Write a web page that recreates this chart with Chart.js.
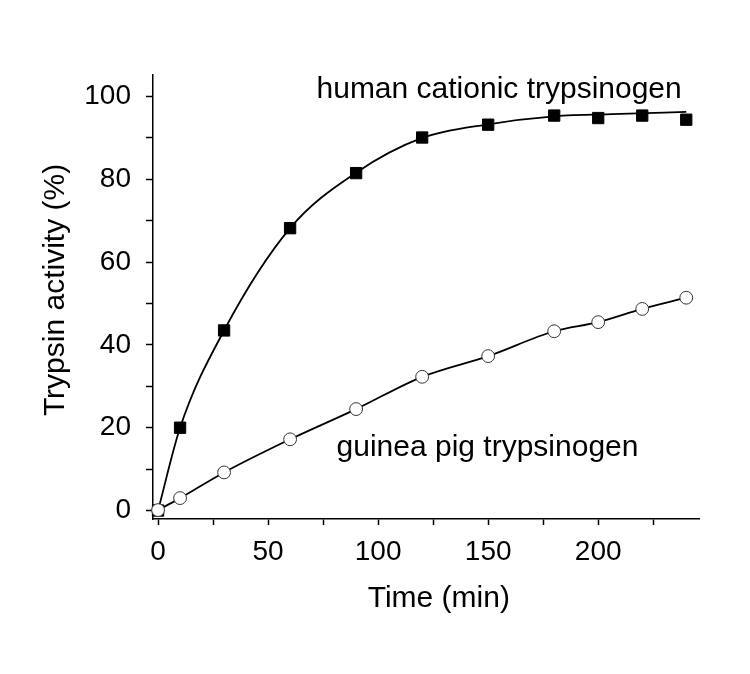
<!DOCTYPE html>
<html>
<head>
<meta charset="utf-8">
<script src="https://cdn.jsdelivr.net/npm/chart.js@4"></script>
<style>
  html, body { margin: 0; padding: 0; background: #fff; }
  #wrap { width: 750px; height: 674px; }
</style>
</head>
<body>
<div id="wrap"><canvas id="c" width="750" height="674"></canvas></div>
<script>
// ---- data ----
const timeMin = [0, 10, 30, 60, 90, 120, 150, 180, 200, 220, 240];
const humanActivity = [0, 20.0, 43.5, 68.2, 81.5, 90.1, 93.2, 95.4, 94.8, 95.4, 94.4];
const guineaPigActivity = [0.1, 3.0, 9.2, 17.2, 24.5, 32.3, 37.3, 43.3, 45.5, 48.7, 51.4];
// fitted curve of the human series
const humanFitTime = [0, 10, 30, 60, 90, 120, 150, 180, 210, 240];
const humanFitActivity = [0, 20, 43.5, 68.2, 81.6, 90.0, 93.3, 95.2, 95.8, 96.3];

const xTickValues = [0, 25, 50, 75, 100, 125, 150, 175, 200, 225];
const xTickLabels = [0, 50, 100, 150, 200];
const yTickValues = [0, 10, 20, 30, 40, 50, 60, 70, 80, 90, 100];
const yTickLabels = [0, 20, 40, 60, 80, 100];

const seriesNames = ['human cationic trypsinogen', 'guinea pig trypsinogen'];
const xTitle = 'Time (min)';
const yTitle = 'Trypsin activity (%)';

const FONT = '"Liberation Sans", Arial, Helvetica, sans-serif';

const toPts = (xs, ys) => xs.map((t, i) => ({ x: t, y: ys[i] }));

const textPlugin = {
  id: 'texts',
  afterDatasetsDraw(chart, args, opts) {
    const { ctx, chartArea: a, scales: { x, y } } = chart;
    ctx.save();
    ctx.fillStyle = '#000';
    ctx.font = '30px ' + FONT;
    ctx.textAlign = 'left';
    ctx.textBaseline = 'alphabetic';
    opts.labels.forEach(l => {
      ctx.fillText(l.text, x.getPixelForValue(l.x), y.getPixelForValue(l.y));
    });
    ctx.textAlign = 'center';
    ctx.fillText(xTitle, (a.left + a.right) / 2 + opts.xTitleShift, a.bottom + opts.xTitleGap);
    ctx.translate(a.left - opts.yTitleGap, (a.top + a.bottom) / 2 + opts.yTitleShift);
    ctx.rotate(-Math.PI / 2);
    ctx.fillText(yTitle, 0, 0);
    ctx.restore();
  }
};

new Chart(document.getElementById('c'), {
  type: 'scatter',
  data: {
    datasets: [
      {
        label: seriesNames[1],
        data: toPts(timeMin, guineaPigActivity),
        showLine: true,
        cubicInterpolationMode: 'monotone',
        borderColor: '#000',
        borderWidth: 1.8,
        pointStyle: 'circle',
        pointRadius: 6.4,
        pointBackgroundColor: '#fff',
        pointBorderColor: '#333',
        pointBorderWidth: 1,
        clip: false,
        order: 1
      },
      {
        label: seriesNames[0],
        data: toPts(timeMin, humanActivity),
        showLine: false,
        pointStyle: 'rect',
        pointRadius: 8,
        pointBackgroundColor: '#000',
        pointBorderColor: '#000',
        pointBorderWidth: 1,
        clip: false,
        order: 2
      },
      {
        label: seriesNames[0] + ' fit',
        data: toPts(humanFitTime, humanFitActivity),
        showLine: true,
        cubicInterpolationMode: 'monotone',
        borderColor: '#000',
        borderWidth: 1.8,
        pointRadius: 0,
        clip: false,
        order: 3
      }
    ]
  },
  options: {
    responsive: false,
    animation: false,
    events: [],
    layout: { padding: { top: 75, right: 51, bottom: 0, left: 0 } },
    plugins: {
      legend: { display: false },
      tooltip: { enabled: false },
      texts: {
        labels: [
          { text: seriesNames[0], x: 72, y: 99.6 },
          { text: seriesNames[1], x: 81.1, y: 13.2 }
        ],
        xTitleShift: 12.8,
        xTitleGap: 88,
        yTitleGap: 89,
        yTitleShift: -7
      }
    },
    scales: {
      x: {
        type: 'linear',
        min: -2.3,
        max: 245.8,
        afterBuildTicks: s => { s.ticks = xTickValues.map(v => ({ value: v })); },
        afterFit: s => { s.height = 155; },
        ticks: {
          autoSkip: false,
          maxRotation: 0,
          padding: 10,
          color: '#000',
          font: { family: FONT, size: 28 },
          callback: v => xTickLabels.includes(v) ? String(v) : ''
        },
        grid: { display: true, drawOnChartArea: false, drawTicks: true, tickLength: 6, tickColor: '#000', tickWidth: 1.5 },
        border: { display: true, color: '#000', width: 1.5 }
      },
      y: {
        type: 'linear',
        min: -2.05,
        max: 105.2,
        afterBuildTicks: s => { s.ticks = yTickValues.map(v => ({ value: v })); },
        afterFit: s => { s.width = 153; },
        ticks: {
          autoSkip: false,
          padding: 15,
          color: '#000',
          font: { family: FONT, size: 28 },
          callback: v => yTickLabels.includes(v) ? String(v) : ''
        },
        grid: { display: true, drawOnChartArea: false, drawTicks: true, tickLength: 7, tickColor: '#000', tickWidth: 1.5 },
        border: { display: true, color: '#000', width: 1.5 }
      }
    }
  },
  plugins: [textPlugin]
});
</script>
</body>
</html>
